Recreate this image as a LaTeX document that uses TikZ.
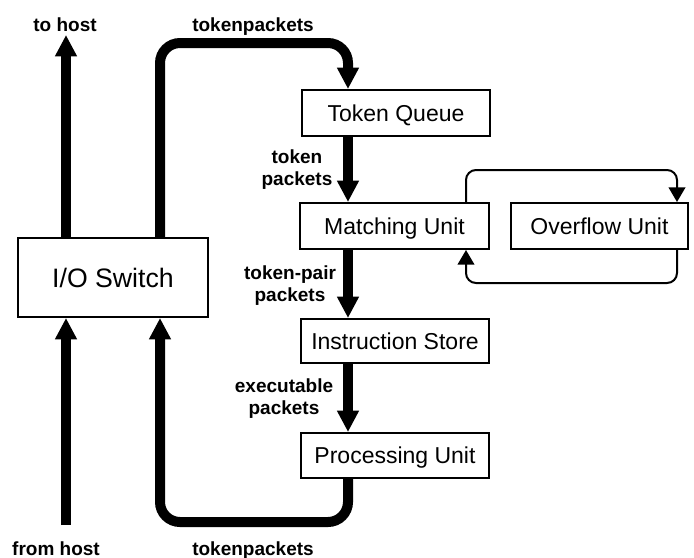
\documentclass[tikz,border=0pt]{standalone}
\usepackage{fontspec}
\setmainfont{Liberation Sans}
\usetikzlibrary{arrows.meta}
\begin{document}
\begin{tikzpicture}[x=0.75pt,y=-0.75pt,
  unit/.style={draw,line width=1.5pt,inner sep=0pt,minimum height=34.5pt,
    text height=12.35pt,text depth=0pt,
    font=\fontsize{17.25}{20}\selectfont},
  lbl/.style={font=\bfseries\fontsize{14.25}{16.5}\selectfont,align=center,inner sep=0pt},
  bus/.style={line width=7.5pt,-{Triangle[width=15.5pt,length=16pt]}},
  thin/.style={line width=1.5pt,rounded corners=7.5pt,-{Triangle[width=12.5pt,length=11pt]}}]
\useasboundingbox (0,0) rectangle (694,558);

% processing units
\node[unit,minimum width=141pt] (tq) at (396,113) {Token Queue};
\node[unit,minimum width=141.75pt] (mu) at (394.5,226) {Matching Unit};
\node[unit,minimum width=132.75pt] (ou) at (599.5,226) {Overflow Unit};
\node[unit,minimum width=141pt,minimum height=33pt] (is) at (395,341) {Instruction Store};
\node[unit,minimum width=141pt,minimum height=33.75pt] (pu) at (395,455.5) {Processing Unit};
\node[unit,minimum width=142.5pt,minimum height=59.25pt,text height=14.3pt,
  font=\fontsize{20}{24}\selectfont] (io) at (113,277.5) {I/O Switch};

% reference columns and rows for the buses
\coordinate (host) at (66,0);
\coordinate (lp) at (160,0);
\coordinate (col) at (348,0);
\coordinate (top) at (0,43);
\coordinate (bot) at (0,522);
\coordinate (tohost) at (66,35);
\coordinate (fromhost) at (66,525);
\coordinate (ml) at (466,0);
\coordinate (mr) at (677,0);
\coordinate (tt) at (0,170);
\coordinate (bb) at (0,283);

% host links
\draw[bus] (io.north -| host) -- (tohost);
\draw[bus] (fromhost) -- (io.south -| host);

% token ring
\draw[bus,rounded corners=15pt] (io.north -| lp) -- (lp |- top) -- (top -| col) -- (tq.north -| col);
\draw[bus,rounded corners=15pt] (pu.south -| col) -- (col |- bot) -- (bot -| lp) -- (io.south -| lp);
\draw[bus] (tq.south -| col) -- (mu.north -| col);
\draw[bus] (mu.south -| col) -- (is.north -| col);
\draw[bus] (is.south -| col) -- (pu.north -| col);

% overflow loop
\draw[thin] (mu.north -| ml) -- (ml |- tt) -- (tt -| mr) -- (ou.north -| mr);
\draw[thin] (ou.south -| mr) -- (mr |- bb) -- (bb -| ml) -- (mu.south -| ml);

% labels
\node[lbl,anchor=base] (l1) at (65,31) {to host};
\node[lbl,anchor=base] (l2) at (253,31) {tokenpackets};
\node[lbl] (l3) at (297,170) {token\\packets};
\node[lbl] (l4) at (290,286) {token-pair\\packets};
\node[lbl] (l5) at (284,399) {executable\\packets};
\node[lbl,anchor=base] (l6) at (56,555) {from host};
\node[lbl,anchor=base] (l7) at (253,555) {tokenpackets};
\end{tikzpicture}
\end{document}
